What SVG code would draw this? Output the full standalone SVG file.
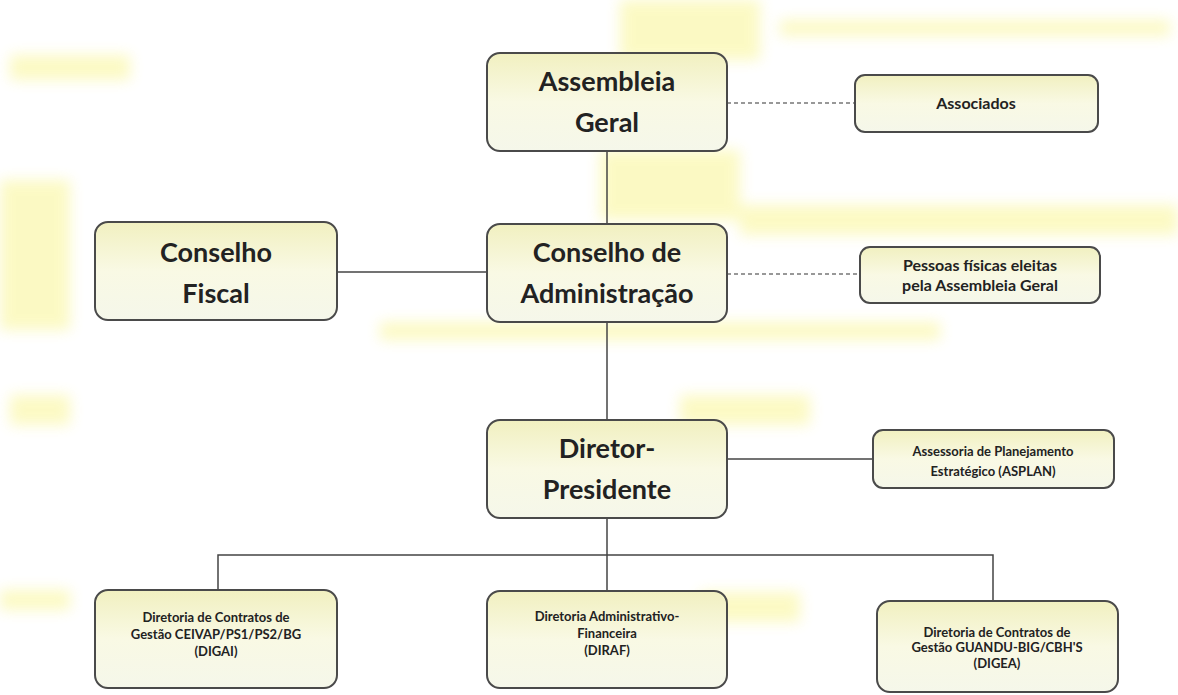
<svg xmlns="http://www.w3.org/2000/svg" width="1178" height="695" viewBox="0 0 1178 695">
<defs>
<linearGradient id="bg" x1="0" y1="0" x2="0" y2="1">
<stop offset="0" stop-color="#f1f0c0"/>
<stop offset="0.5" stop-color="#f9f9e4"/>
<stop offset="1" stop-color="#f5f7ea"/>
</linearGradient>
<filter id="blur" x="-10%" y="-10%" width="120%" height="120%"><feGaussianBlur stdDeviation="7"/></filter>
<style>
.box{fill:url(#bg);stroke:#4a4a4a;stroke-width:2}
.big{font-family:Lato,"Liberation Sans",sans-serif;font-weight:bold;font-size:27px;fill:#222;text-anchor:middle}
.mid{font-family:Lato,"Liberation Sans",sans-serif;font-weight:bold;font-size:16px;fill:#222;text-anchor:middle}
.sm{font-family:Lato,"Liberation Sans",sans-serif;font-weight:bold;font-size:13px;fill:#222;text-anchor:middle}
.ln{stroke:#444;stroke-width:1.5;fill:none}
.dash{stroke:#777;stroke-width:1.3;stroke-dasharray:4 3;fill:none}
.hl{fill:#f5ee3c}
</style>
</defs>
<rect width="1178" height="695" fill="#ffffff"/>
<g id="highlight" opacity="0.3" filter="url(#blur)">
<rect class="hl" x="620" y="0" width="140" height="60"/>
<rect class="hl" x="780" y="20" width="390" height="16"/>
<rect class="hl" x="10" y="55" width="120" height="25"/>
<rect class="hl" x="600" y="150" width="140" height="70"/>
<rect class="hl" x="0" y="180" width="70" height="150"/>
<rect class="hl" x="740" y="205" width="438" height="30"/>
<rect class="hl" x="380" y="322" width="560" height="18"/>
<rect class="hl" x="10" y="395" width="60" height="30"/>
<rect class="hl" x="680" y="395" width="130" height="30"/>
<rect class="hl" x="0" y="590" width="70" height="20"/>
<rect class="hl" x="700" y="592" width="100" height="30"/>
</g>
<g id="connectors">
<line class="ln" x1="607" y1="151" x2="607" y2="224"/>
<line class="ln" x1="337" y1="272" x2="487" y2="272"/>
<line class="ln" x1="607" y1="322" x2="607" y2="420"/>
<line class="ln" x1="727" y1="459" x2="873" y2="459"/>
<line class="ln" x1="607" y1="518" x2="607" y2="591"/>
<polyline class="ln" points="218,590 218,555 993,555 993,601"/>
<line class="dash" x1="727" y1="103" x2="855" y2="103"/>
<line class="dash" x1="727" y1="274" x2="860" y2="274"/>
</g>
<g id="assembleia">
<rect class="box" x="487" y="53" width="240" height="98" rx="13"/>
<text class="big" x="607" y="91">Assembleia</text>
<text class="big" x="607" y="132">Geral</text>
</g>
<g id="associados">
<rect class="box" x="855" y="75" width="243" height="57" rx="10"/>
<text class="mid" x="976" y="109">Associados</text>
</g>
<g id="conselho-fiscal">
<rect class="box" x="95" y="222" width="242" height="98" rx="13"/>
<text class="big" x="216" y="262">Conselho</text>
<text class="big" x="216" y="303">Fiscal</text>
</g>
<g id="conselho-admin">
<rect class="box" x="487" y="224" width="240" height="98" rx="13"/>
<text class="big" x="607" y="262">Conselho de</text>
<text class="big" x="607" y="303">Administração</text>
</g>
<g id="pessoas">
<rect class="box" x="860" y="247" width="240" height="56" rx="10"/>
<text class="mid" x="980" y="271">Pessoas físicas eleitas</text>
<text class="mid" x="980" y="291">pela Assembleia Geral</text>
</g>
<g id="diretor">
<rect class="box" x="487" y="420" width="240" height="98" rx="13"/>
<text class="big" x="607" y="458">Diretor-</text>
<text class="big" x="607" y="499">Presidente</text>
</g>
<g id="asplan">
<rect class="box" x="873" y="430" width="241" height="58" rx="10"/>
<text class="sm" x="993" y="456">Assessoria de Planejamento</text>
<text class="sm" x="993" y="476">Estratégico (ASPLAN)</text>
</g>
<g id="digai">
<rect class="box" x="95" y="590" width="242" height="98" rx="13"/>
<text class="sm" x="216" y="622">Diretoria de Contratos de</text>
<text class="sm" x="216" y="639">Gestão CEIVAP/PS1/PS2/BG</text>
<text class="sm" x="216" y="656">(DIGAI)</text>
</g>
<g id="diraf">
<rect class="box" x="487" y="591" width="240" height="97" rx="13"/>
<text class="sm" x="607" y="621">Diretoria Administrativo-</text>
<text class="sm" x="607" y="638">Financeira</text>
<text class="sm" x="607" y="655">(DIRAF)</text>
</g>
<g id="digea">
<rect class="box" x="877" y="601" width="241" height="91" rx="13"/>
<text class="sm" x="997" y="637">Diretoria de Contratos de</text>
<text class="sm" x="997" y="652">Gestão GUANDU-BIG/CBH'S</text>
<text class="sm" x="997" y="668">(DIGEA)</text>
</g>
</svg>
